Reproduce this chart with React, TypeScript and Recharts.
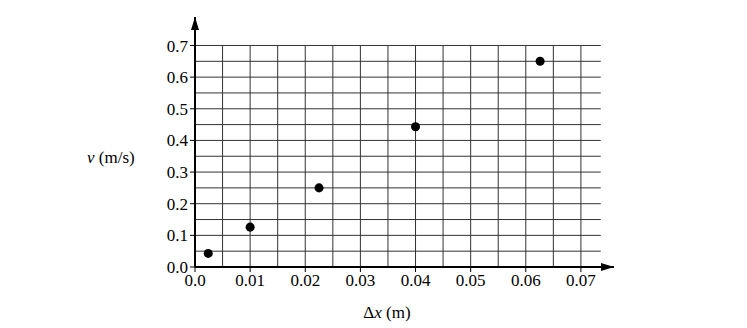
import React from 'react'
import {
  ScatterChart,
  Scatter,
  XAxis,
  YAxis,
  ReferenceLine,
  ReferenceDot,
} from 'recharts'

// measured points
const dx = [0.0024, 0.01, 0.0225, 0.04, 0.0626]
const v = [0.043, 0.126, 0.25, 0.443, 0.65]

const xTicks = [0, 0.01, 0.02, 0.03, 0.04, 0.05, 0.06, 0.07]
const yTicks = [0, 0.1, 0.2, 0.3, 0.4, 0.5, 0.6, 0.7]

// graph paper lines
const gridX = [0.005, 0.01, 0.015, 0.02, 0.025, 0.03, 0.035, 0.04, 0.045, 0.05, 0.055, 0.06, 0.065, 0.07]
const gridY = [0.05, 0.1, 0.15, 0.2, 0.25, 0.3, 0.35, 0.4, 0.45, 0.5, 0.55, 0.6, 0.65, 0.7]
const gridXEnd = 0.0736
const gridYEnd = 0.7

const X_MAX = 0.076
const Y_MAX = 0.79

const data = dx.map((x, i) => ({ x, y: v[i] }))

const font = 'Liberation Serif'
const tickStyle = { fontSize: 17, fill: '#000', fontFamily: font }

const ArrowUp = (props: any) => {
  const { cx, cy } = props
  return <path d={`M${cx},${cy} L${cx - 4},${cy + 13} L${cx + 4},${cy + 13} Z`} fill="#000" />
}

const ArrowRight = (props: any) => {
  const { cx, cy } = props
  return <path d={`M${cx},${cy} L${cx - 13},${cy - 4} L${cx - 13},${cy + 4} Z`} fill="#000" />
}

export default function App() {
  return (
    <div style={{ position: 'fixed', left: 0, top: 0, width: 747, height: 328, background: '#fff', fontFamily: font }}>
      <ScatterChart width={747} height={328} margin={{ top: 17, right: 133, left: 0, bottom: 31 }} style={{ fontFamily: font }}>
        {gridX.map((g) => (
          <ReferenceLine key={'gx' + g} segment={[{ x: g, y: 0 }, { x: g, y: gridYEnd }]} stroke="#333" strokeWidth={1} />
        ))}
        {gridY.map((g) => (
          <ReferenceLine key={'gy' + g} segment={[{ x: 0, y: g }, { x: gridXEnd, y: g }]} stroke="#333" strokeWidth={1} />
        ))}
        <XAxis
          type="number"
          dataKey="x"
          domain={[0, X_MAX]}
          ticks={xTicks}
          tickFormatter={(t: number) => (t === 0 ? '0.0' : t.toFixed(2))}
          tick={tickStyle}
          axisLine={{ stroke: '#000', strokeWidth: 2 }}
          tickLine={{ stroke: '#000' }}
          tickSize={5}
          height={30}
          allowDataOverflow
        />
        <YAxis
          type="number"
          dataKey="y"
          domain={[0, Y_MAX]}
          ticks={yTicks}
          tickFormatter={(t: number) => t.toFixed(1)}
          tick={tickStyle}
          axisLine={{ stroke: '#000', strokeWidth: 2 }}
          tickLine={{ stroke: '#000' }}
          tickSize={5}
          width={195}
          allowDataOverflow
        />
        <ReferenceDot x={0} y={Y_MAX} r={0} shape={ArrowUp} ifOverflow="visible" />
        <ReferenceDot x={X_MAX} y={0} r={0} shape={ArrowRight} ifOverflow="visible" />
        <Scatter data={data} fill="#000" shape="circle" isAnimationActive={false} />
      </ScatterChart>
      <div style={{ position: 'absolute', left: 87, top: 148, fontSize: 17, whiteSpace: 'nowrap' }}>
        <i>v</i> (m/s)
      </div>
      <div style={{ position: 'absolute', left: 387, top: 303, transform: 'translateX(-50%)', fontSize: 17, whiteSpace: 'nowrap' }}>
        Δ<i>x</i> (m)
      </div>
    </div>
  )
}
